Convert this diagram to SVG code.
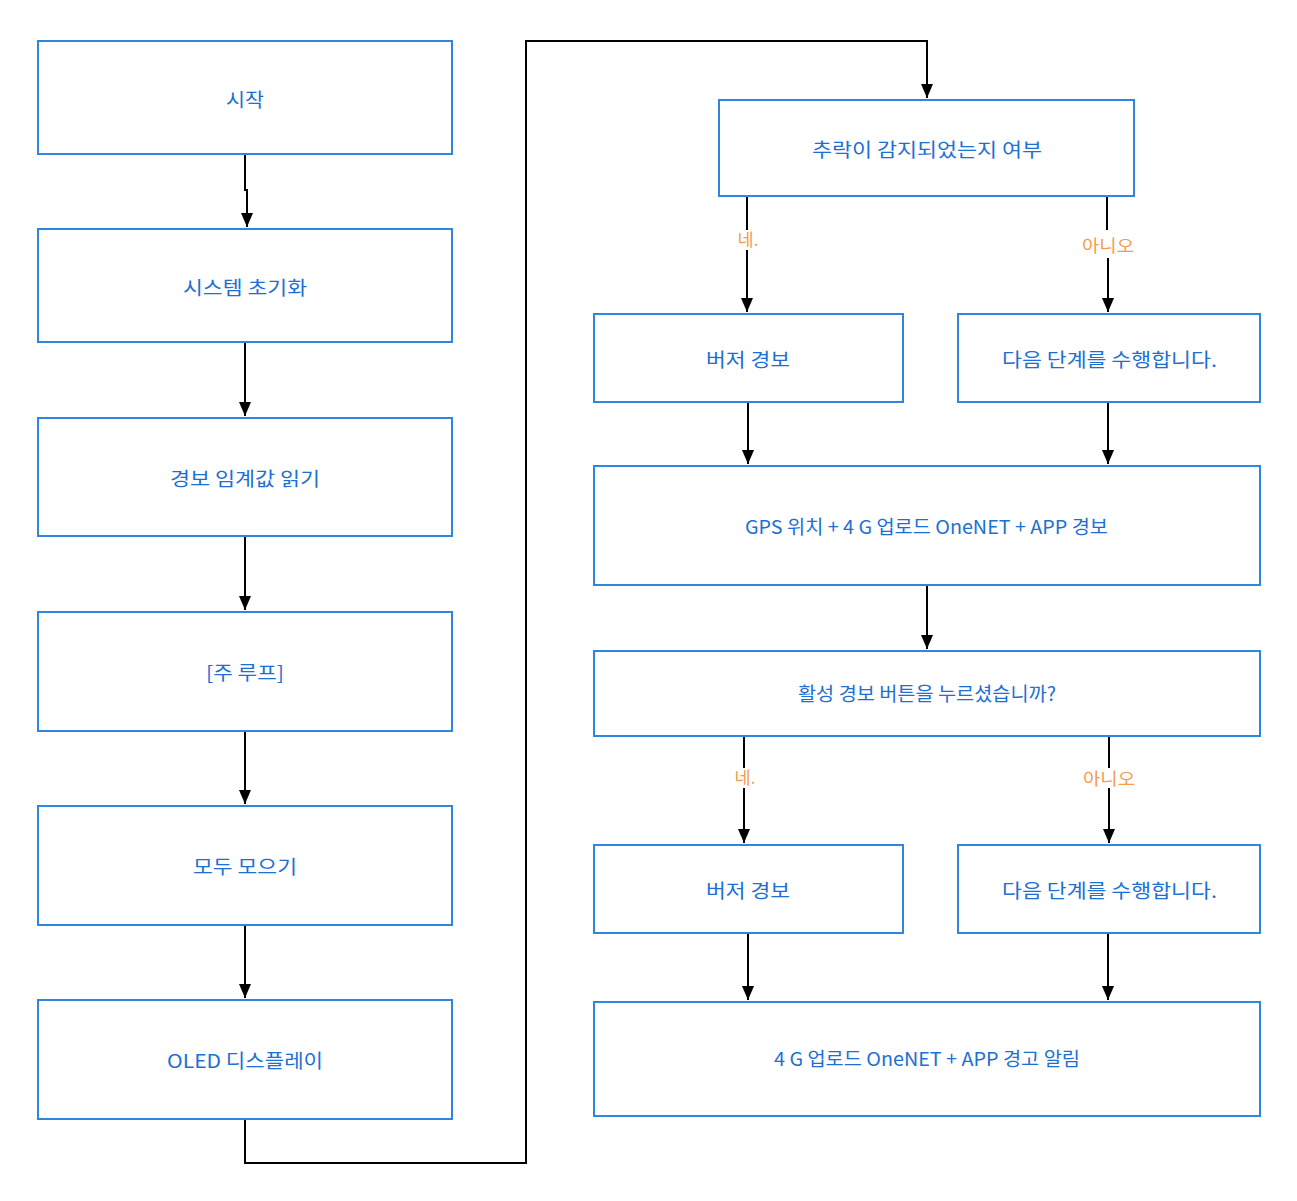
<svg xmlns="http://www.w3.org/2000/svg" width="1297" height="1201" viewBox="0 0 1297 1201">
<style>
.box{fill:#ffffff;stroke:#2e86de;stroke-width:2}
.t{font-family:"Noto Sans CJK KR","Noto Sans",sans-serif;font-size:19px;fill:#1c70d4;text-anchor:middle}
.c{fill:none;stroke:#000;stroke-width:2}
.lb{font-family:"Noto Sans CJK KR","Noto Sans",sans-serif;font-size:17px;fill:#f59b4c;text-anchor:middle}
.lbg{fill:#ffffff}
</style>
<defs>
<marker id="ah" viewBox="0 0 14 18" refX="14" refY="9" markerWidth="14" markerHeight="18" markerUnits="userSpaceOnUse" orient="auto">
<path d="M0,3 L14,9 L0,15 Z" fill="#000"/>
</marker>
</defs>
<rect width="1297" height="1201" fill="#ffffff"/>
<g id="connectors">
<path class="c" d="M245,154 V190 H247 V227" marker-end="url(#ah)"/>
<path class="c" d="M245,342 V416" marker-end="url(#ah)"/>
<path class="c" d="M245,536 V610" marker-end="url(#ah)"/>
<path class="c" d="M245,731 V804" marker-end="url(#ah)"/>
<path class="c" d="M245,925 V998" marker-end="url(#ah)"/>
<path class="c" d="M245,1119 V1163 H526 V41 H927 V98" marker-end="url(#ah)"/>
<path class="c" d="M747,196 V312" marker-end="url(#ah)"/>
<path class="c" d="M1107,196 V230 M1108,258 V312" marker-end="url(#ah)"/>
<path class="c" d="M748,402 V464" marker-end="url(#ah)"/>
<path class="c" d="M1108,402 V464" marker-end="url(#ah)"/>
<path class="c" d="M927,585 V649" marker-end="url(#ah)"/>
<path class="c" d="M744,736 V843" marker-end="url(#ah)"/>
<path class="c" d="M1109,736 V843" marker-end="url(#ah)"/>
<path class="c" d="M748,933 V1000" marker-end="url(#ah)"/>
<path class="c" d="M1108,933 V1000" marker-end="url(#ah)"/>
<rect class="lbg" x="734" y="230" width="28" height="20"/>
<text class="lb" x="748" y="246" textLength="21" lengthAdjust="spacingAndGlyphs">네.</text>
<rect class="lbg" x="1080" y="235" width="56" height="20"/>
<text class="lb" x="1108" y="252" textLength="52" lengthAdjust="spacingAndGlyphs">아니오</text>
<rect class="lbg" x="731" y="768" width="28" height="20"/>
<text class="lb" x="745" y="784" textLength="21" lengthAdjust="spacingAndGlyphs">네.</text>
<rect class="lbg" x="1081" y="768" width="56" height="20"/>
<text class="lb" x="1109" y="785" textLength="52" lengthAdjust="spacingAndGlyphs">아니오</text>
</g>
<g id="n1"><rect class="box" x="38" y="41" width="414" height="113"/><text class="t" x="245" y="107" textLength="38" lengthAdjust="spacingAndGlyphs">시작</text></g>
<g id="n2"><rect class="box" x="38" y="229" width="414" height="113"/><text class="t" x="245" y="295" textLength="124" lengthAdjust="spacingAndGlyphs">시스템 초기화</text></g>
<g id="n3"><rect class="box" x="38" y="418" width="414" height="118"/><text class="t" x="245" y="486" textLength="150" lengthAdjust="spacingAndGlyphs">경보 임계값 읽기</text></g>
<g id="n4"><rect class="box" x="38" y="612" width="414" height="119"/><text class="t" x="245" y="680" textLength="78" lengthAdjust="spacingAndGlyphs">[주 루프]</text></g>
<g id="n5"><rect class="box" x="38" y="806" width="414" height="119"/><text class="t" x="245" y="874" textLength="104" lengthAdjust="spacingAndGlyphs">모두 모으기</text></g>
<g id="n6"><rect class="box" x="38" y="1000" width="414" height="119"/><text class="t" x="245" y="1068" textLength="156" lengthAdjust="spacingAndGlyphs">OLED 디스플레이</text></g>
<g id="n7"><rect class="box" x="719" y="100" width="415" height="96"/><text class="t" x="927" y="157" textLength="230" lengthAdjust="spacingAndGlyphs">추락이 감지되었는지 여부</text></g>
<g id="n8"><rect class="box" x="594" y="314" width="309" height="88"/><text class="t" x="748" y="367" textLength="84" lengthAdjust="spacingAndGlyphs">버저 경보</text></g>
<g id="n9"><rect class="box" x="958" y="314" width="302" height="88"/><text class="t" x="1109.5" y="367" textLength="215" lengthAdjust="spacingAndGlyphs">다음 단계를 수행합니다.</text></g>
<g id="n10"><rect class="box" x="594" y="466" width="666" height="119"/><text class="t" x="926.5" y="534" textLength="363" lengthAdjust="spacingAndGlyphs">GPS 위치 + 4 G 업로드 OneNET + APP 경보</text></g>
<g id="n11"><rect class="box" x="594" y="651" width="666" height="85"/><text class="t" x="927" y="701" textLength="258" lengthAdjust="spacingAndGlyphs">활성 경보 버튼을 누르셨습니까?</text></g>
<g id="n12"><rect class="box" x="594" y="845" width="309" height="88"/><text class="t" x="748" y="898" textLength="84" lengthAdjust="spacingAndGlyphs">버저 경보</text></g>
<g id="n13"><rect class="box" x="958" y="845" width="302" height="88"/><text class="t" x="1109.5" y="898" textLength="215" lengthAdjust="spacingAndGlyphs">다음 단계를 수행합니다.</text></g>
<g id="n14"><rect class="box" x="594" y="1002" width="666" height="114"/><text class="t" x="927" y="1066" textLength="306" lengthAdjust="spacingAndGlyphs">4 G 업로드 OneNET + APP 경고 알림</text></g>
</svg>
